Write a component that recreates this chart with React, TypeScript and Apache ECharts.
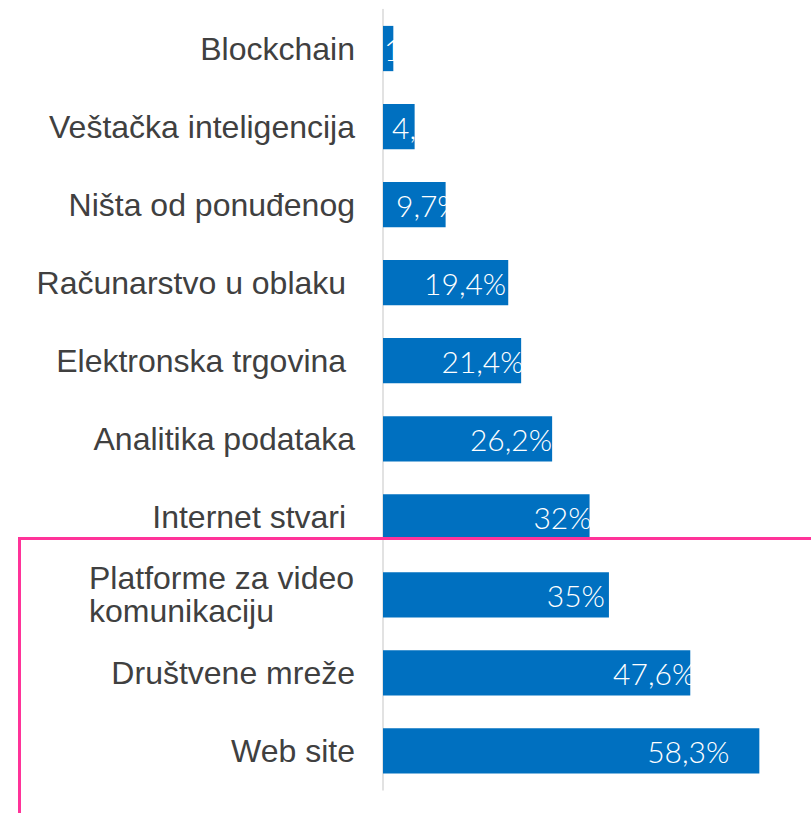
import React, { useEffect, useRef } from "react";
import * as echarts from "echarts";

const categories = [
  "Blockchain",
  "Veštačka inteligencija",
  "Ništa od ponuđenog",
  "Računarstvo u oblaku\u00a0",
  "Elektronska trgovina\u00a0",
  "Analitika podataka",
  "Internet stvari\u00a0",
  "Platforme za video\nkomunikaciju",
  "Društvene mreže",
  "Web site",
];
const values = [1.6, 4.9, 9.7, 19.4, 21.4, 26.2, 32, 35, 47.6, 58.3];
const valueLabels = ["1,6%", "4,9%", "9,7%", "19,4%", "21,4%", "26,2%", "32%", "35%", "47,6%", "58,3%"];
// label placement per bar: [mode, offset]
const labelPlacement: [string, number][] = [
  ["start", 1],
  ["start", 9],
  ["start", 13],
  ["end", 2],
  ["end", -2.5],
  ["end", 0],
  ["end", -2],
  ["end", 4],
  ["end", -5],
  ["end", 30],
];

export default function App() {
  const ref = useRef<HTMLDivElement>(null);
  useEffect(() => {
    if (!ref.current) return;
    const chart = echarts.init(ref.current, undefined, { renderer: "svg" });
    const data = values.map((v, i) => {
      const [mode, off] = labelPlacement[i];
      const label: any =
        mode === "start"
          ? { position: [off, "50%"], align: "left", verticalAlign: "middle" }
          : { position: "insideRight", distance: off };
      return { value: v, label };
    });
    chart.setOption({
      animation: false,
      backgroundColor: "#ffffff",
      grid: { left: 383, top: 9.5, bottom: 23, right: 8.4, containLabel: false },
      xAxis: {
        type: "value",
        min: 0,
        max: 65,
        show: false,
        splitLine: { show: false },
      },
      yAxis: {
        type: "category",
        data: categories,
        inverse: true,
        axisLine: { show: true, lineStyle: { color: "#d9d9d9", width: 1.5 } },
        axisTick: { show: false },
        axisLabel: {
          margin: 28,
          color: "#404040",
          fontFamily: "Liberation Sans, Arial, sans-serif",
          fontSize: 32,
          lineHeight: 34,
          formatter: (val: string) => {
            if (val.indexOf("\n") >= 0) {
              return val
                .split("\n")
                .map((s) => "{l|" + s + "}")
                .join("\n");
            }
            return val;
          },
          rich: {
            l: {
              width: 266,
              align: "left",
              color: "#404040",
              fontFamily: "Liberation Sans, Arial, sans-serif",
              fontSize: 32,
              lineHeight: 33,
            },
          },
        },
      },
      series: [
        {
          type: "bar",
          data,
          barCategoryGap: "42%",
          itemStyle: { color: "#0070C0" },
          label: {
            show: true,
            color: "#ffffff",
            fontFamily: "Lato, sans-serif",
            fontWeight: 300,
            fontSize: 30,
            formatter: (p: any) => valueLabels[p.dataIndex],
          },
        },
      ],
      graphic: [
        {
          type: "polyline",
          shape: { points: [[19.5, 813], [19.5, 538.5], [811, 538.5]] },
          style: { stroke: "#ff3399", lineWidth: 3, fill: null },
          z: 100,
        },
      ],
    });
    return () => chart.dispose();
  }, []);
  return (
    <div
      ref={ref}
      style={{ position: "fixed", left: 0, top: 0, width: 811, height: 813 }}
    />
  );
}
